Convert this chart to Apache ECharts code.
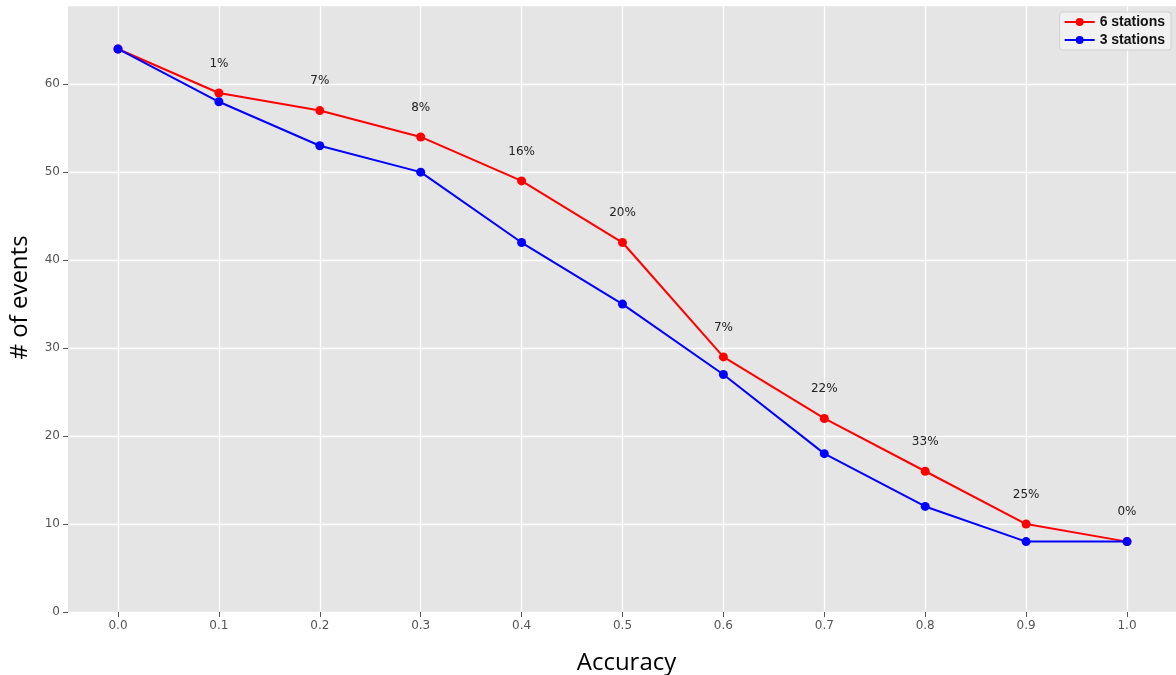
<!DOCTYPE html>
<html>
<head>
<meta charset="utf-8">
<script src="https://cdn.jsdelivr.net/npm/echarts@6/dist/echarts.min.js"></script>
<style>html,body{margin:0;padding:0;background:#fff;}#c{width:1176px;height:675px;}</style>
</head>
<body>
<div id="c"></div>
<script>
const accuracy = [0.0, 0.1, 0.2, 0.3, 0.4, 0.5, 0.6, 0.7, 0.8, 0.9, 1.0];
const sixStations = [64, 59, 57, 54, 49, 42, 29, 22, 16, 10, 8];
const threeStations = [64, 58, 53, 50, 42, 35, 27, 18, 12, 8, 8];
const improvement = ['', '1%', '7%', '8%', '16%', '20%', '7%', '22%', '33%', '25%', '0%'];

const chart = echarts.init(document.getElementById('c'));
const font = '"DejaVu Sans", sans-serif';
chart.setOption({
  animation: false,
  textStyle: { fontFamily: font },
  grid: [
    { left: 68, right: 0, top: 5, bottom: 63, show: true, backgroundColor: '#e5e5e5', borderWidth: 0,
      outerBoundsMode: 'none', containLabel: false },
    { left: 118, right: 49, top: 5, bottom: 63, outerBoundsMode: 'none', containLabel: false }
  ],
  legend: {
    right: 5, top: 12, orient: 'vertical',
    backgroundColor: 'rgba(242,242,242,0.9)', borderColor: '#d0d0d0', borderWidth: 1, borderRadius: 3,
    padding: [3, 6, 3, 4], itemGap: 4, itemWidth: 30, itemHeight: 10,
    textStyle: { fontWeight: 'bold', fontSize: 14, color: '#111', fontFamily: '"Liberation Sans", Arial, sans-serif' },
    data: ['6 stations', '3 stations']
  },
  xAxis: [
    { gridIndex: 0, type: 'value', min: 0, max: 1, show: false, splitLine: { show: false } },
    {
      gridIndex: 1, type: 'value', min: 0, max: 1, interval: 0.1,
      axisLine: { show: false },
      axisTick: { show: true, length: 5, lineStyle: { color: '#555', width: 1 } },
      axisLabel: { color: '#555', fontSize: 12, margin: 8, formatter: v => v.toFixed(1) },
      splitLine: { show: true, lineStyle: { color: '#ffffff', width: 1.3 } },
      name: 'Accuracy', nameLocation: 'middle', nameGap: 39,
      nameTextStyle: { fontSize: 24, color: '#000', fontFamily: '"Open Sans", sans-serif', padding: [0, 0, 0, 8] }
    }
  ],
  yAxis: [
    {
      gridIndex: 0, type: 'value', min: 0, max: 69, interval: 10,
      axisLine: { show: false },
      axisTick: { show: true, length: 5, lineStyle: { color: '#555', width: 1 } },
      axisLabel: { color: '#555', fontSize: 12, margin: 8, showMaxLabel: false,
        formatter: v => (v % 10 === 0 ? String(v) : '') },
      splitLine: { show: true, lineStyle: { color: '#ffffff', width: 1.3 } },
      name: '# of events', nameLocation: 'middle', nameGap: 36, nameRotate: 90,
      nameTextStyle: { fontSize: 24, color: '#000', fontFamily: '"Open Sans", sans-serif', padding: [0, 0, 0, 22] }
    },
    { gridIndex: 1, type: 'value', min: 0, max: 69, show: false, splitLine: { show: false } }
  ],
  series: [
    {
      name: '6 stations', type: 'line', xAxisIndex: 1, yAxisIndex: 1,
      data: accuracy.map((x, i) => [x, sixStations[i]]),
      color: '#ff0000', symbol: 'circle', symbolSize: 9,
      lineStyle: { width: 2, color: '#ff0000' }, itemStyle: { color: '#ff0000' },
      label: {
        show: true, position: 'top', distance: 19, color: '#222', fontSize: 12,
        formatter: p => improvement[p.dataIndex]
      },
      z: 3
    },
    {
      name: '3 stations', type: 'line', xAxisIndex: 1, yAxisIndex: 1,
      data: accuracy.map((x, i) => [x, threeStations[i]]),
      color: '#0000ff', symbol: 'circle', symbolSize: 9,
      lineStyle: { width: 2, color: '#0000ff' }, itemStyle: { color: '#0000ff' },
      z: 4
    }
  ]
});
</script>
</body>
</html>
